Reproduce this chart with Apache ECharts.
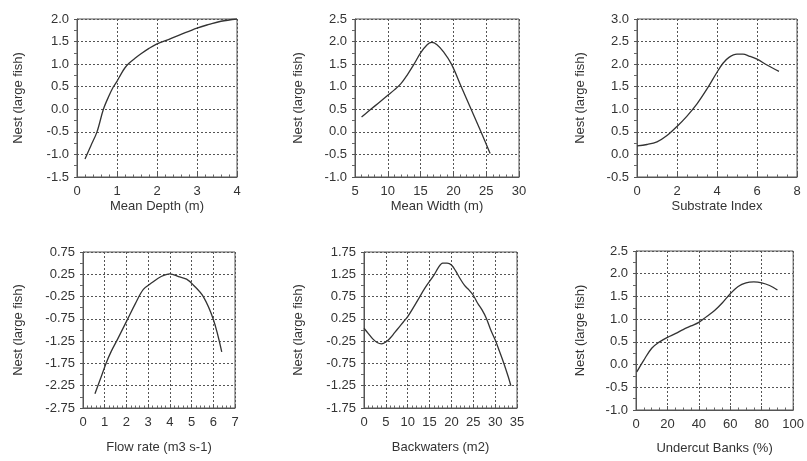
<!DOCTYPE html>
<html>
<head>
<meta charset="utf-8">
<script src="https://cdn.jsdelivr.net/npm/echarts@6/dist/echarts.min.js"></script>
<style>
  html, body { margin: 0; padding: 0; background: #fff; }
  #main { width: 807px; height: 461px; }
</style>
</head>
<body>
<div id="main"></div>
<script>
// values
var depthX = [0.2, 0.35, 0.5, 0.66, 0.8, 0.91, 1.0, 1.1, 1.2, 1.3, 1.45, 1.6, 1.8, 2.0, 2.3, 2.6, 3.0, 3.3, 3.6, 4.0];
var depthY = [-1.1, -0.8, -0.5, 0.0, 0.3, 0.5, 0.62, 0.78, 0.92, 1.02, 1.13, 1.23, 1.35, 1.45, 1.55, 1.66, 1.8, 1.88, 1.95, 2.0];

var widthX = [6, 7, 8, 9, 10, 11, 12, 13, 14, 15, 16, 16.7, 17.5, 18.5, 19.7, 21.2, 22.7, 24.2, 25.6];
var widthY = [0.33, 0.45, 0.57, 0.69, 0.81, 0.93, 1.07, 1.27, 1.5, 1.75, 1.93, 1.98, 1.93, 1.77, 1.5, 1.0, 0.5, 0.0, -0.48];

var substrateX = [0, 0.5, 1, 1.5, 2, 2.5, 3, 3.5, 4, 4.3, 4.6, 5.0, 5.3, 5.6, 6, 6.5, 7.1];
var substrateY = [0.19, 0.22, 0.28, 0.42, 0.62, 0.85, 1.12, 1.45, 1.82, 2.02, 2.15, 2.22, 2.22, 2.18, 2.11, 1.98, 1.84];

var flowX = [0.55, 0.8, 1.06, 1.3, 1.6, 2.06, 2.4, 2.78, 3.2, 3.6, 4.0, 4.4, 4.77, 5.08, 5.54, 6.0, 6.39];
var flowY = [-2.43, -2.1, -1.75, -1.48, -1.2, -0.75, -0.42, -0.09, 0.07, 0.2, 0.26, 0.2, 0.14, 0.01, -0.25, -0.76, -1.49];

var backX = [0, 1, 2, 3, 4, 5, 6, 7, 8, 9, 10, 12, 14, 16, 17, 18, 19, 20, 21, 22, 23, 24, 25, 26, 27, 28, 29, 30, 31, 32, 33, 33.6];
var backY = [0.04, -0.08, -0.2, -0.28, -0.31, -0.27, -0.18, -0.06, 0.06, 0.18, 0.3, 0.62, 0.95, 1.23, 1.4, 1.5, 1.5, 1.46, 1.32, 1.15, 1.0, 0.9, 0.78, 0.6, 0.45, 0.26, 0.0, -0.22, -0.48, -0.75, -1.05, -1.25];

var undercutX = [0.5, 5, 10, 15, 20, 25, 30, 35, 40, 45, 50, 55, 60, 65, 70, 75, 80, 85, 90];
var undercutY = [-0.16, 0.1, 0.36, 0.5, 0.6, 0.68, 0.77, 0.85, 0.93, 1.06, 1.19, 1.36, 1.56, 1.72, 1.8, 1.82, 1.8, 1.74, 1.64];

var xNames = ['Mean Depth (m)', 'Mean Width (m)', 'Substrate Index', 'Flow rate (m3 s-1)', 'Backwaters (m2)', 'Undercut Banks (%)'];
var yName = 'Nest (large fish)';
var xRanges = [[0, 4, 1], [5, 30, 5], [0, 8, 2], [0, 7, 1], [0, 35, 5], [0, 100, 20]];
var yRanges = [[-1.5, 2, 0.5], [-1, 2.5, 0.5], [-0.5, 3, 0.5], [-2.75, 0.75, 0.5], [-1.75, 1.75, 0.5], [-1, 2.5, 0.5]];
var xMinor = [5, 5, 4, 5, 5, 4];
var yDigits = [1, 1, 1, 2, 2, 1];

var panels = [[depthX, depthY], [widthX, widthY], [substrateX, substrateY], [flowX, flowY], [backX, backY], [undercutX, undercutY]];

// layout of the six boxes
var boxes = [
    {left: 77, top: 19, width: 160, height: 158, yGap: 52, xGap: 23},
    {left: 355, top: 19, width: 164, height: 158, yGap: 50, xGap: 23},
    {left: 637, top: 19, width: 160, height: 158, yGap: 50, xGap: 23},
    {left: 83, top: 252, width: 152, height: 156, yGap: 58, xGap: 33},
    {left: 364, top: 252, width: 153, height: 156, yGap: 59, xGap: 33},
    {left: 636, top: 251, width: 161, height: 159, yGap: 49, xGap: 32}
];

var txt = '#333';
var font = 'Arial, "Liberation Sans", sans-serif';
var fs = 13;

var grids = [], xAxes = [], yAxes = [], series = [];

boxes.forEach(function (b, i) {
    grids.push({
        left: b.left, top: b.top, width: b.width, height: b.height,
        show: true, borderColor: '#555', borderWidth: 1
    });
    xAxes.push({
        gridIndex: i, type: 'value', position: 'bottom',
        min: xRanges[i][0], max: xRanges[i][1], interval: xRanges[i][2],
        name: xNames[i], nameLocation: 'middle', nameGap: b.xGap,
        nameTextStyle: {color: txt, fontSize: fs, fontFamily: font},
        axisLine: {show: true, onZero: false, lineStyle: {color: '#555', width: 1}},
        axisTick: {show: true, inside: true, length: 4, lineStyle: {color: '#555'}},
        minorTick: {show: true, splitNumber: xMinor[i], length: 2.5, lineStyle: {color: '#666'}},
        axisLabel: {color: txt, fontSize: fs, fontFamily: font, margin: 8},
        splitLine: {show: true, lineStyle: {color: '#555', type: [2, 2], width: 1}}
    });
    yAxes.push({
        gridIndex: i, type: 'value', position: 'left',
        min: yRanges[i][0], max: yRanges[i][1], interval: yRanges[i][2],
        name: yName, nameLocation: 'middle', nameGap: b.yGap, nameRotate: 90,
        nameTextStyle: {color: txt, fontSize: fs, fontFamily: font},
        axisLine: {show: true, onZero: false, lineStyle: {color: '#555', width: 1}},
        axisTick: {show: true, inside: false, length: 3, lineStyle: {color: '#555'}},
        minorTick: {show: true, splitNumber: 2, length: 3, lineStyle: {color: '#666'}},
        axisLabel: {
            color: txt, fontSize: fs, fontFamily: font, margin: 8,
            formatter: function (v) { return v.toFixed(yDigits[i]); }
        },
        splitLine: {show: true, lineStyle: {color: '#555', type: [2, 2], width: 1}}
    });
    var pts = panels[i][0].map(function (x, k) { return [x, panels[i][1][k]]; });
    series.push({
        type: 'line', xAxisIndex: i, yAxisIndex: i,
        data: pts, smooth: 0.35, showSymbol: false, silent: true,
        lineStyle: {color: '#333', width: 1.3}
    });
});

var chart = echarts.init(document.getElementById('main'));
chart.setOption({
    animation: false,
    backgroundColor: '#fff',
    grid: grids,
    xAxis: xAxes,
    yAxis: yAxes,
    series: series
});
</script>
</body>
</html>
